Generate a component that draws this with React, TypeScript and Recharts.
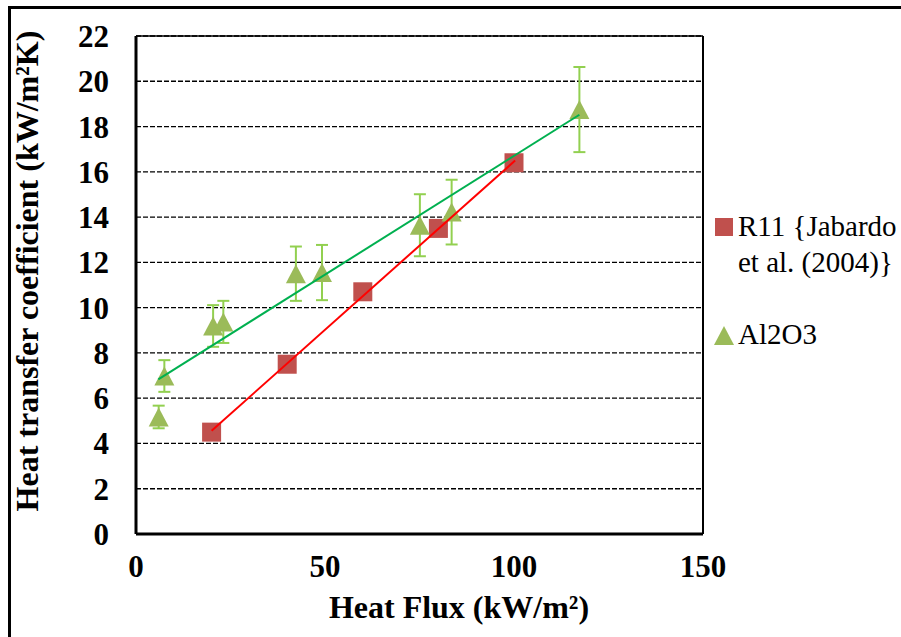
import { CartesianGrid, ErrorBar, ReferenceLine, Scatter, ScatterChart, XAxis, YAxis } from 'recharts'

// R11 {Jabardo et al. (2004)} reference points
const r11Flux = [20, 40, 60, 80, 100]
const r11Htc = [4.5, 7.5, 10.7, 13.5, 16.4]

// Al2O3 measurements with error bars
const al2o3Flux = [6, 7.5, 20.4, 23.1, 42.3, 49.2, 75.1, 83.5, 117.3]
const al2o3Htc = [5.17, 6.98, 9.19, 9.37, 11.5, 11.55, 13.64, 14.22, 18.75]
const al2o3Err = [0.5, 0.7, 0.92, 0.93, 1.2, 1.22, 1.37, 1.43, 1.88]

// linear trend lines (end points)
const r11TrendFlux = [20, 100.3]
const r11TrendHtc = [4.56, 16.5]
const al2o3TrendFlux = [5.9, 117.3]
const al2o3TrendHtc = [6.83, 18.52]

const xTicks = [0, 50, 100, 150]
const yTicks = [0, 2, 4, 6, 8, 10, 12, 14, 16, 18, 20, 22]

const legendLabels = ['R11 {Jabardo', 'et al. (2004)}', 'Al2O3']

const r11Data = r11Flux.map((x, i) => ({ x, y: r11Htc[i] }))
const al2o3Data = al2o3Flux.map((x, i) => ({ x, y: al2o3Htc[i], err: al2o3Err[i] }))
const r11Trend = r11TrendFlux.map((x, i) => ({ x, y: r11TrendHtc[i] }))
const al2o3Trend = al2o3TrendFlux.map((x, i) => ({ x, y: al2o3TrendHtc[i] }))

const serif = '"Liberation Serif", "Times New Roman", serif'
const tickStyle = { fontFamily: serif, fontSize: 31, fontWeight: 700, fill: '#000' }
const legendText = { position: 'absolute' as const, left: 738, fontFamily: serif, fontSize: 29, lineHeight: '36px', whiteSpace: 'nowrap' as const }

const SquareMark = (props: any) => {
  const { cx, cy } = props
  return <rect x={cx - 9.5} y={cy - 9.5} width={19} height={19} fill="#C0504D" />
}

const TriangleMark = (props: any) => {
  const { cx, cy } = props
  return <polygon points={`${cx},${cy - 9.5} ${cx + 10},${cy + 9.5} ${cx - 10},${cy + 9.5}`} fill="#9BBB59" />
}

const NoMark = () => <g />

export default function App() {
  return (
    <div style={{ position: 'relative', width: 901, height: 637, overflow: 'hidden', background: '#fff' }}>
      <style>{'body{margin:0;overflow:hidden}'}</style>
      <div
        style={{
          position: 'absolute',
          left: 8,
          top: 6,
          width: 1200,
          height: 1200,
          border: '3px solid #000',
        }}
      />
      <div style={{ position: 'absolute', left: 0, top: 0 }}>
        <ScatterChart width={901} height={637} margin={{ top: 36, right: 198, bottom: 43, left: 0 }}>
          <CartesianGrid vertical={false} stroke="#000" strokeWidth={1.3} strokeDasharray="5 2" />
          <XAxis
            dataKey="x"
            type="number"
            domain={[0, 150]}
            ticks={xTicks}
            interval={0}
            height={60}
            tickLine={false}
            tickMargin={15}
            axisLine={{ stroke: '#000', strokeWidth: 3 }}
            tick={tickStyle}
          />
          <YAxis
            dataKey="y"
            type="number"
            domain={[0, 22]}
            ticks={yTicks}
            interval={0}
            width={136}
            tickLine={false}
            tickMargin={21}
            axisLine={{ stroke: '#000', strokeWidth: 3 }}
            tick={tickStyle}
          />
          <ReferenceLine y={22} stroke="#000" strokeWidth={1.5} />
          <ReferenceLine x={150} stroke="#000" strokeWidth={2} />
          <Scatter data={r11Data} shape={SquareMark} isAnimationActive={false} />
          <Scatter data={al2o3Data} shape={TriangleMark} isAnimationActive={false}>
            <ErrorBar dataKey="err" direction="y" width={6} stroke="#92D050" strokeWidth={2} />
          </Scatter>
          <Scatter
            data={r11Trend}
            line={{ stroke: '#FF0000', strokeWidth: 2 }}
            shape={NoMark}
            isAnimationActive={false}
          />
          <Scatter
            data={al2o3Trend}
            line={{ stroke: '#00B050', strokeWidth: 2 }}
            shape={NoMark}
            isAnimationActive={false}
          />
        </ScatterChart>
      </div>

      {/* axis titles */}
      <div
        style={{
          position: 'absolute',
          left: 27,
          top: 271,
          transform: 'translate(-50%, -50%) rotate(-90deg)',
          fontFamily: serif,
          fontSize: 32,
          fontWeight: 700,
          lineHeight: '32px',
          whiteSpace: 'nowrap',
        }}
      >
        Heat transfer coefficient (kW/m²K)
      </div>
      <div
        style={{
          position: 'absolute',
          left: 459,
          top: 591,
          transform: 'translateX(-50%)',
          fontFamily: serif,
          fontSize: 32,
          fontWeight: 700,
          lineHeight: '32px',
          whiteSpace: 'nowrap',
        }}
      >
        Heat Flux (kW/m²)
      </div>

      {/* legend */}
      <div style={{ position: 'absolute', left: 715, top: 218, width: 18, height: 18, background: '#C0504D' }} />
      <div style={{ ...legendText, top: 208 }}>
        {legendLabels[0]}
        <br />
        {legendLabels[1]}
      </div>
      <svg style={{ position: 'absolute', left: 714, top: 326 }} width={20} height={19}>
        <polygon points="10,0 20,19 0,19" fill="#9BBB59" />
      </svg>
      <div style={{ ...legendText, top: 316 }}>{legendLabels[2]}</div>
    </div>
  )
}
